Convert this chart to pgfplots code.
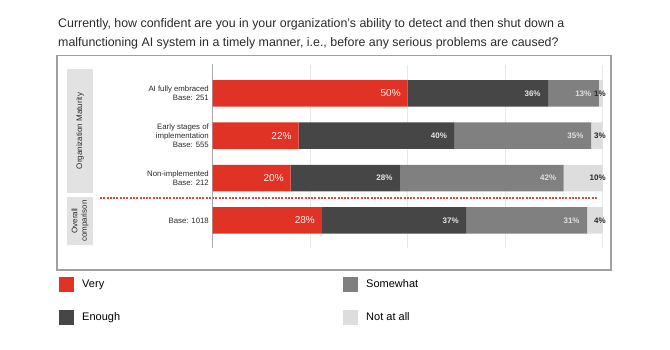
\documentclass[border=0pt]{standalone}
\usepackage{pgfplots}
\pgfplotsset{compat=1.18}
\usepackage{pgfplotstable}
\usepackage{fontspec}
\setmainfont{Liberation Sans}
\definecolor{cvery}{HTML}{E03326}
\definecolor{cenough}{HTML}{464646}
\definecolor{csome}{HTML}{808080}
\definecolor{cnone}{HTML}{DDDDDD}
\definecolor{grpgray}{HTML}{E2E2E2}
\definecolor{gridgray}{HTML}{E8E8E8}
\definecolor{zerogray}{HTML}{A8A8A8}
\definecolor{boxgray}{HTML}{A0A0A0}
\definecolor{labtext}{HTML}{2A2A2A}
\definecolor{dashred}{HTML}{D24B3F}
\pgfplotstableread{
y very enough some none
3 50 36 13 1
2 22 40 35 3
1 20 28 42 10
0 28 37 31 4
}\data
\begin{document}
\begin{tikzpicture}[x=1pt,y=1pt]
\path (0,0) rectangle (670,-350);
\node[anchor=base west, inner sep=0pt, font=\fontsize{12.4}{14}\selectfont, text=labtext] at (58,-27.5) {Currently, how confident are you in your organization’s ability to detect and then shut down a};
\node[anchor=base west, inner sep=0pt, font=\fontsize{12.4}{14}\selectfont, text=labtext] at (58,-46.5) {malfunctioning AI system in a timely manner, i.e., before any serious problems are caused?};
\draw[boxgray, line width=1.2pt] (57,-55.5) rectangle (611,-270);
\fill[grpgray] (67,-69) rectangle (93,-193);
\node[rotate=90, font=\fontsize{8}{9.5}\selectfont, text=labtext] at (80,-131) {Organization Maturity};
\fill[grpgray] (67,-197) rectangle (93,-245);
\node[rotate=90, align=center, font=\fontsize{8}{9.5}\selectfont, text=labtext] at (80,-221) {Overall\\comparison};
\begin{axis}[
  at={(212.7pt,-248pt)}, anchor=south west,
  scale only axis, width=390pt, height=183pt,
  xmin=0, xmax=100, ymin=-0.649, ymax=3.667,
  xbar stacked, bar width=26.5pt,
  xtick={0,25,50,75,100}, xticklabels={},
  xmajorgrids, grid style={gridgray, line width=0.8pt},
  ytick={0,1,2,3},
  yticklabels={{Base: 1018},{Non-implemented\\Base: 212},{Early stages of\\implementation\\Base: 555},{AI fully embraced\\Base: 251}},
  yticklabel style={align=right, font=\fontsize{7.8}{8.6}\selectfont, text=labtext, inner sep=0pt, xshift=-3.7pt},
  major tick length=0pt,
  axis line style={draw=none},
  clip=false,
  point meta=explicit,
  /pgf/number format/assume math mode=true,
  legend columns=2, transpose legend,
  legend cell align=left,
  legend style={at={(-0.394,-0.158)}, anchor=north west, draw=none, fill=none, inner sep=0pt,
    font=\fontsize{11}{13}\selectfont, row sep=18pt,
    /tikz/every even column/.append style={column sep=0pt}},
  legend image code/.code={\fill[#1] (0pt,-7.5pt) rectangle (15pt,7.5pt);},
]
\addplot[fill=cvery, draw=none, visualization depends on=rawx\as\segw,
  nodes near coords={\pgfmathprintnumber{\pgfplotspointmeta}\%},
  nodes near coords style={anchor=east, xshift={\segw*1.95pt-3.5pt}, text=white!95!cvery, font=\fontsize{10}{12}\selectfont}]
  table[x=very, y=y, meta=very] {\data};
\addlegendentry{\makebox[265pt][l]{\hspace*{6pt}Very}}
\addplot[fill=cenough, draw=none, visualization depends on=rawx\as\segw,
  nodes near coords={\pgfmathprintnumber{\pgfplotspointmeta}\%},
  nodes near coords style={anchor=east, xshift={\segw*1.95pt-4pt}, text=white!90!black, font=\fontsize{8}{9}\selectfont\bfseries}]
  table[x=enough, y=y, meta=enough] {\data};
\addlegendentry{\makebox[265pt][l]{\hspace*{6pt}Enough}}
\addplot[fill=csome, draw=none, visualization depends on=rawx\as\segw,
  nodes near coords={\pgfmathprintnumber{\pgfplotspointmeta}\%},
  nodes near coords style={anchor=east, xshift={\segw*1.95pt-4pt}, text=white!88!black, font=\fontsize{8}{9}\selectfont\bfseries}]
  table[x=some, y=y, meta=some] {\data};
\addlegendentry{\hspace*{6pt}Somewhat}
\addplot[fill=cnone, draw=none, visualization depends on=rawx\as\segw,
  nodes near coords={\pgfmathprintnumber{\pgfplotspointmeta}\%},
  nodes near coords style={anchor=east, xshift={\segw*1.95pt+6.5pt}, text=labtext, font=\fontsize{8}{9}\selectfont\bfseries}]
  table[x=none, y=y, meta=none] {\data};
\addlegendentry{\hspace*{6pt}Not at all}
\draw[zerogray, line width=1.3pt] (axis cs:0,-0.649) -- (axis cs:0,3.69);
\draw[dashred, line width=1.1pt, dash pattern=on 2pt off 1.3pt] (axis cs:-28.9,0.53) -- (axis cs:98.8,0.53);
\end{axis}
\end{tikzpicture}
\end{document}
